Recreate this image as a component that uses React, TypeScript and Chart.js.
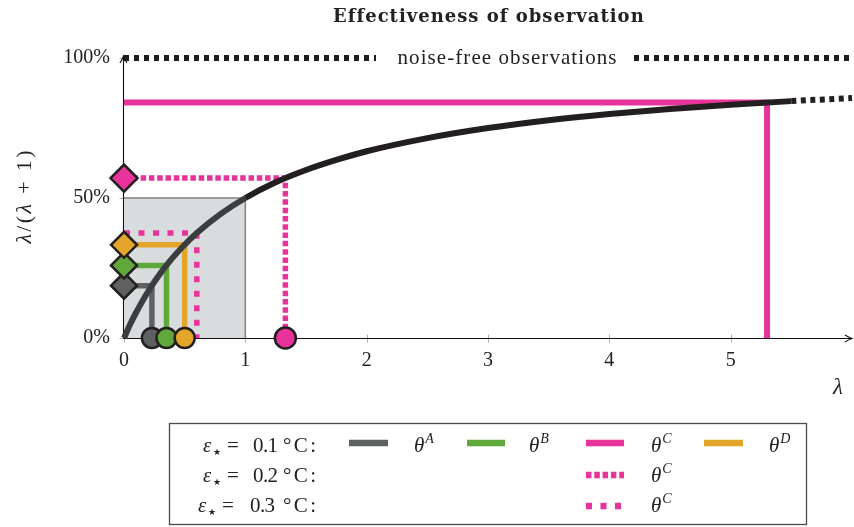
import React, { useEffect, useRef } from 'react';
import { Chart, registerables } from 'chart.js';

Chart.register(...registerables);

// ---------- data ----------
const curveLambda = [0, 0.05, 0.1, 0.2, 0.3, 0.4, 0.5, 0.6, 0.8, 1.0, 1.25, 1.5, 1.75, 2, 2.5, 3, 3.5, 4, 4.5, 5, 5.5, 6];
const curveShare = [0, 0.048, 0.091, 0.167, 0.231, 0.286, 0.333, 0.375, 0.444, 0.5, 0.556, 0.6, 0.636, 0.667, 0.714, 0.75, 0.778, 0.8, 0.818, 0.833, 0.846, 0.857];

const seriesKeys = ['A1', 'B1', 'C1', 'D1', 'C2', 'C3'];
const seriesLambda = [0.23, 0.35, 5.3, 0.5, 1.33, 0.6];
const seriesShare = [0.187, 0.259, 0.841, 0.333, 0.571, 0.375];
const seriesMarked = [true, true, false, true, true, false];

const boxLambda = [0, 1, 1];
const boxShare = [0.5, 0.5, 0];

const noiseFreeLambda = [0, 6];
const noiseFreeShare = [1, 1];
const noiseFreeText = 'noise-free observations';

const xTicks = [0, 1, 2, 3, 4, 5];
const yTicks = [0, 0.5, 1];
const yTickLabels = ['0%', '50%', '100%'];

const titleText = 'Effectiveness of observation';
const legendEps = ['0.1', '0.2', '0.3'];

// ---------- styles ----------
const STYLE: Record<string, { color: string; width: number; dash: number[]; marker: string; order: number }> = {
  A1: { color: '#5e6062', width: 5.5, dash: [], marker: '#5e6062', order: 4 },
  B1: { color: '#60a83b', width: 5.5, dash: [], marker: '#60a83b', order: 3 },
  C1: { color: '#e8349a', width: 6, dash: [], marker: '#e8349a', order: 1 },
  D1: { color: '#e4a62a', width: 5.5, dash: [], marker: '#e4a62a', order: 2 },
  C2: { color: '#e8349a', width: 5.5, dash: [5.5, 2.8], marker: '#e8349a', order: 1 },
  C3: { color: '#e8349a', width: 5.5, dash: [6, 8.5], marker: '#e8349a', order: 1 },
};
const INK = '#231f20';
const TXT = '#222222';
const SERIF = '"Liberation Serif", "Times New Roman", serif';

type Part = { t: string; font: string; dx?: number; dy?: number };

function drawRich(ctx: CanvasRenderingContext2D, parts: Part[], x: number, y: number, align: string, target?: number) {
  (ctx as any).letterSpacing = '0px';
  let n = 0;
  let w0 = 0;
  parts.forEach((p) => {
    ctx.font = p.font;
    w0 += ctx.measureText(p.t).width + (p.dx || 0);
    n += [...p.t].length;
  });
  let sp = 0;
  if (target) sp = Math.max(-1.5, Math.min(4, (target - w0) / Math.max(1, n - 1)));
  const total = w0 + sp * (n - 1);
  let cx = align === 'center' ? x - total / 2 : align === 'right' ? x - total : x;
  (ctx as any).letterSpacing = sp + 'px';
  ctx.textAlign = 'left';
  ctx.textBaseline = 'alphabetic';
  parts.forEach((p) => {
    ctx.font = p.font;
    cx += p.dx || 0;
    ctx.fillText(p.t, cx, y + (p.dy || 0));
    cx += ctx.measureText(p.t).width;
  });
  (ctx as any).letterSpacing = '0px';
}

const decor = {
  id: 'decor',
  beforeDatasetsDraw(chart: any) {
    const { ctx, scales } = chart;
    const x = scales.x;
    const y = scales.y;
    const x0 = Math.round(x.getPixelForValue(0)) - 0.5;
    const y0 = Math.round(y.getPixelForValue(0)) + 0.5;
    const xEnd = chart.chartArea.right;
    const yTop = y.getPixelForValue(1) - 2;
    ctx.save();
    ctx.strokeStyle = '#9a9a9a';
    ctx.lineWidth = 0.8;
    xTicks.forEach((v) => {
      const px = Math.round(x.getPixelForValue(v)) + 0.5;
      ctx.beginPath();
      ctx.moveTo(px, y0 - 4);
      ctx.lineTo(px, y0 + 4);
      ctx.stroke();
    });
    yTicks.forEach((v) => {
      const py = Math.round(y.getPixelForValue(v)) + 0.5;
      ctx.beginPath();
      ctx.moveTo(x0 - 4, py);
      ctx.lineTo(x0 + 4, py);
      ctx.stroke();
    });
    ctx.strokeStyle = '#111';
    ctx.lineWidth = 1.1;
    ctx.beginPath();
    ctx.moveTo(x0, y0);
    ctx.lineTo(xEnd, y0);
    ctx.moveTo(x0, y0);
    ctx.lineTo(x0, yTop);
    ctx.stroke();
    ctx.beginPath();
    ctx.moveTo(xEnd - 7, y0 - 3.5);
    ctx.quadraticCurveTo(xEnd - 3, y0 - 1, xEnd, y0);
    ctx.quadraticCurveTo(xEnd - 3, y0 + 1, xEnd - 7, y0 + 3.5);
    ctx.moveTo(x0 - 3.5, yTop + 7);
    ctx.quadraticCurveTo(x0 - 1, yTop + 3, x0, yTop);
    ctx.quadraticCurveTo(x0 + 1, yTop + 3, x0 + 3.5, yTop + 7);
    ctx.stroke();
    ctx.restore();
  },
  afterDatasetsDraw(chart: any) {
    const { ctx, scales } = chart;
    const py = scales.y.getPixelForValue(1);
    ctx.save();
    ctx.fillStyle = '#ffffff';
    ctx.fillRect(376, py - 6, 256, 12);
    ctx.fillStyle = TXT;
    drawRich(ctx, [{ t: noiseFreeText, font: `21px ${SERIF}` }], 507, py + 6, 'center', 219);
    ctx.restore();
  },
  afterDraw(chart: any) {
    const { ctx, chartArea } = chart;
    ctx.save();
    ctx.fillStyle = TXT;
    drawRich(ctx, [{ t: titleText, font: 'bold 18px "DejaVu Serif", serif' }], (chartArea.left + chartArea.right) / 2, 22, 'center', 310);
    ctx.save();
    ctx.translate(31, 197);
    ctx.rotate(-Math.PI / 2);
    drawRich(ctx, [
      { t: 'λ', font: `italic 22px ${SERIF}` },
      { t: '/(', font: `22px ${SERIF}` },
      { t: 'λ', font: `italic 22px ${SERIF}` },
      { t: ' + 1)', font: `22px ${SERIF}` },
    ], 0, 0, 'center', 93);
    ctx.restore();
    drawRich(ctx, [{ t: 'λ', font: `italic 23px ${SERIF}` }], 838, 394, 'center');

    ctx.strokeStyle = '#4a4a4a';
    ctx.lineWidth = 1.3;
    ctx.strokeRect(169.5, 423.5, 637, 101);

    const baselines = [452, 482, 512];
    const swatchY = [443, 475, 506];
    legendEps.forEach((e, i) => {
      const b = baselines[i];
      const sx = i === 2 ? 198 : 203;
      const eqx = i === 2 ? 222 : 227;
      const nx = i === 2 ? 250 : 253;
      drawRich(ctx, [{ t: 'ε', font: `italic 21px ${SERIF}` }], sx, b, 'left');
      drawRich(ctx, [{ t: '★', font: '9px "DejaVu Sans", sans-serif' }], sx + 10, b + 3, 'left');
      drawRich(ctx, [{ t: '=', font: `21px ${SERIF}` }], eqx, b, 'left', 15);
      drawRich(ctx, [{ t: e, font: `21px ${SERIF}` }], nx, b, 'left', 25);
      drawRich(ctx, [{ t: '°C:', font: `21px ${SERIF}` }], 283, b, 'left', 33);
    });
    const theta = (sup: string, x: number, b: number) =>
      drawRich(ctx, [
        { t: 'θ', font: `italic 21px ${SERIF}` },
        { t: sup, font: `italic 14px ${SERIF}`, dx: 1, dy: -9 },
      ], x, b, 'left');

    const swatch = (key: string, x1: number, x2: number, yy: number) => {
      ctx.save();
      ctx.strokeStyle = STYLE[key].color;
      ctx.lineWidth = 6.5;
      ctx.lineCap = 'butt';
      ctx.setLineDash(STYLE[key].dash);
      ctx.beginPath();
      ctx.moveTo(x1, yy);
      ctx.lineTo(x2, yy);
      ctx.stroke();
      ctx.restore();
    };
    swatch('A1', 349, 388, swatchY[0]);
    theta('A', 414, baselines[0]);
    swatch('B1', 467, 505, swatchY[0]);
    theta('B', 529, baselines[0]);
    swatch('C1', 586, 624, swatchY[0]);
    theta('C', 651, baselines[0]);
    swatch('D1', 704, 743, swatchY[0]);
    theta('D', 769, baselines[0]);
    swatch('C2', 586, 624, swatchY[1]);
    theta('C', 651, baselines[1]);
    swatch('C3', 586, 624, swatchY[2]);
    theta('C', 651, baselines[2]);
    ctx.restore();
  },
};

export default function App() {
  const ref = useRef<HTMLCanvasElement>(null);
  useEffect(() => {
    const canvas = ref.current;
    if (!canvas) return;

    const lineSets: any[] = seriesKeys.map((k, i) => ({
      label: k,
      data: [
        { x: 0, y: seriesShare[i] },
        { x: seriesLambda[i], y: seriesShare[i] },
        { x: seriesLambda[i], y: 0 },
      ],
      borderColor: STYLE[k].color,
      borderWidth: STYLE[k].width,
      borderDash: STYLE[k].dash,
      borderJoinStyle: 'miter',
      borderCapStyle: 'butt',
      pointRadius: 0,
      fill: false,
      tension: 0,
      clip: false,
      order: 10,
    }));

    const markerSets: any[] = [];
    seriesKeys.forEach((k, i) => {
      if (!seriesMarked[i]) return;
      markerSets.push({
        label: k + '-markers',
        data: [
          { x: 0, y: seriesShare[i] },
          { x: seriesLambda[i], y: 0 },
        ],
        showLine: false,
        pointStyle: ['rectRot', 'circle'],
        pointRadius: k === 'C2' ? [13.5, 10.5] : [13, 10],
        pointBackgroundColor: STYLE[k].marker,
        pointBorderColor: INK,
        pointBorderWidth: 2.5,
        clip: false,
        order: STYLE[k].order,
      });
    });

    const curveSet: any = {
      label: 'curve',
      data: curveLambda.map((l, i) => ({ x: l, y: curveShare[i] })),
      borderColor: INK,
      borderWidth: 6,
      pointRadius: 0,
      cubicInterpolationMode: 'monotone',
      borderCapStyle: 'butt',
      fill: false,
      clip: false,
      order: 5,
      segment: {
        borderColor: (c: any) => (c.p1.parsed.x <= 1.0001 ? '#3a3e3e' : INK),
        borderDash: (c: any) => (c.p0.parsed.x >= 5.4999 ? [5, 4.5] : undefined),
      },
    };

    const boxSet: any = {
      label: 'box',
      data: boxLambda.map((l, i) => ({ x: l, y: boxShare[i] })),
      borderColor: '#808484',
      borderWidth: 1.5,
      backgroundColor: '#d9dcdc',
      fill: 'origin',
      pointRadius: 0,
      tension: 0,
      order: 30,
    };

    const noiseSet: any = {
      label: 'noise-free',
      data: noiseFreeLambda.map((l, i) => ({ x: l, y: noiseFreeShare[i] })),
      borderColor: '#1c1c1c',
      borderWidth: 6,
      borderDash: [5, 5],
      borderCapStyle: 'butt',
      pointRadius: 0,
      fill: false,
      clip: false,
      order: 25,
    };

    const chart = new Chart(canvas, {
      type: 'line',
      data: { datasets: [...markerSets, curveSet, ...lineSets, noiseSet, boxSet] },
      options: {
        animation: false,
        responsive: false,
        devicePixelRatio: 1,
        events: [],
        layout: { autoPadding: false, padding: { left: 0, right: 2, top: 58, bottom: 149 } },
        plugins: {
          legend: { display: false },
          title: { display: false },
          tooltip: { enabled: false },
        },
        scales: {
          x: {
            type: 'linear',
            min: 0,
            max: 6,
            grid: { display: false, drawTicks: false },
            border: { display: false },
            ticks: {
              stepSize: 1,
              maxRotation: 0,
              padding: 11,
              color: TXT,
              font: { family: SERIF, size: 20 },
            },
            afterBuildTicks: (s: any) => {
              s.ticks = xTicks.map((v) => ({ value: v }));
            },
            afterFit: (s: any) => {
              s.height = 40;
              s.paddingLeft = 0;
              s.paddingRight = 0;
            },
          },
          y: {
            type: 'linear',
            min: 0,
            max: 1,
            grid: { display: false, drawTicks: false },
            border: { display: false },
            ticks: {
              padding: 14,
              color: TXT,
              font: { family: SERIF, size: 20 },
              callback: (v: any) => {
                const i = yTicks.indexOf(Number(v));
                return i >= 0 ? yTickLabels[i] : '';
              },
            },
            afterBuildTicks: (s: any) => {
              s.ticks = yTicks.map((v) => ({ value: v }));
            },
            afterFit: (s: any) => {
              s.width = 124;
              s.paddingTop = 0;
              s.paddingBottom = 0;
            },
          },
        },
      } as any,
      plugins: [decor],
    });
    return () => chart.destroy();
  }, []);

  return (
    <div style={{ position: 'fixed', left: 0, top: 0, width: 854, height: 527, background: '#fff' }}>
      <canvas ref={ref} width={854} height={527} style={{ display: 'block', width: 854, height: 527 }} />
    </div>
  );
}
